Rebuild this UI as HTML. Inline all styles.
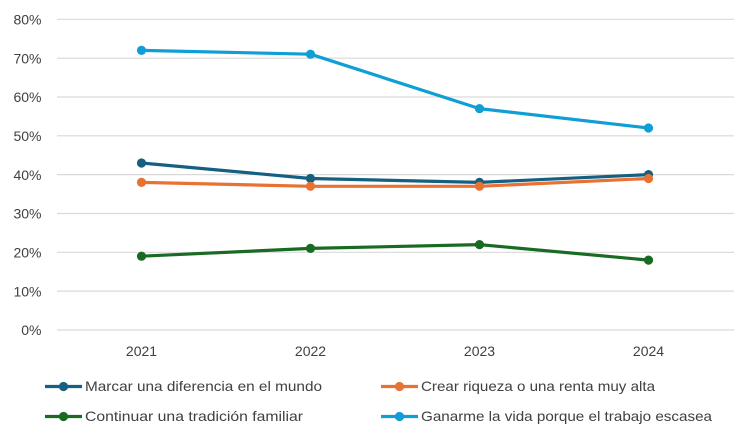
<!DOCTYPE html>
<html>
<head>
<meta charset="utf-8">
<style>
  html, body { margin: 0; padding: 0; background: #ffffff; }
  svg { display: block; }
  text { font-family: "Liberation Sans", "DejaVu Sans", sans-serif; fill: #404040; }
</style>
</head>
<body>
<svg width="754" height="440" viewBox="0 0 754 440" xmlns="http://www.w3.org/2000/svg">
  <rect width="754" height="440" fill="#ffffff"/>
  <!-- gridlines -->
  <g stroke="#d9d9d9" stroke-width="1.2">
    <line x1="57" y1="19.3" x2="734" y2="19.3"/>
    <line x1="57" y1="58.2" x2="734" y2="58.2"/>
    <line x1="57" y1="97" x2="734" y2="97"/>
    <line x1="57" y1="135.8" x2="734" y2="135.8"/>
    <line x1="57" y1="174.6" x2="734" y2="174.6"/>
    <line x1="57" y1="213.5" x2="734" y2="213.5"/>
    <line x1="57" y1="252.3" x2="734" y2="252.3"/>
    <line x1="57" y1="291.1" x2="734" y2="291.1"/>
    <line x1="57" y1="330" x2="734" y2="330"/>
  </g>
  <!-- y tick labels -->
  <g font-size="14" text-anchor="end">
    <text x="41.5" y="24.5">80%</text>
    <text x="41.5" y="63.4">70%</text>
    <text x="41.5" y="102.2">60%</text>
    <text x="41.5" y="141">50%</text>
    <text x="41.5" y="179.8">40%</text>
    <text x="41.5" y="218.7">30%</text>
    <text x="41.5" y="257.5">20%</text>
    <text x="41.5" y="296.3">10%</text>
    <text x="41.5" y="335.2">0%</text>
  </g>
  <!-- x labels -->
  <g font-size="14" text-anchor="middle">
    <text x="141.5" y="356">2021</text>
    <text x="310.5" y="356">2022</text>
    <text x="479.5" y="356">2023</text>
    <text x="648.5" y="356">2024</text>
  </g>
  <!-- series: y = 330 - v*3.884 -->
  <!-- Marcar: 43,39,38,40 -->
  <g stroke="#156082" fill="#156082">
    <polyline fill="none" stroke-width="3.2" stroke-linejoin="round" points="141.5,163 310.5,178.5 479.5,182.4 648.5,174.6"/>
    <circle cx="141.5" cy="163" r="4.6" stroke="none"/>
    <circle cx="310.5" cy="178.5" r="4.6" stroke="none"/>
    <circle cx="479.5" cy="182.4" r="4.6" stroke="none"/>
    <circle cx="648.5" cy="174.6" r="4.6" stroke="none"/>
  </g>
  <!-- Crear: 38,37,37,39 -->
  <g stroke="#E97132" fill="#E97132">
    <polyline fill="none" stroke-width="3.2" stroke-linejoin="round" points="141.5,182.4 310.5,186.3 479.5,186.3 648.5,178.5"/>
    <circle cx="141.5" cy="182.4" r="4.6" stroke="none"/>
    <circle cx="310.5" cy="186.3" r="4.6" stroke="none"/>
    <circle cx="479.5" cy="186.3" r="4.6" stroke="none"/>
    <circle cx="648.5" cy="178.5" r="4.6" stroke="none"/>
  </g>
  <!-- Continuar: 19,21,22,18 -->
  <g stroke="#196B24" fill="#196B24">
    <polyline fill="none" stroke-width="3.2" stroke-linejoin="round" points="141.5,256.2 310.5,248.4 479.5,244.6 648.5,260.1"/>
    <circle cx="141.5" cy="256.2" r="4.6" stroke="none"/>
    <circle cx="310.5" cy="248.4" r="4.6" stroke="none"/>
    <circle cx="479.5" cy="244.6" r="4.6" stroke="none"/>
    <circle cx="648.5" cy="260.1" r="4.6" stroke="none"/>
  </g>
  <!-- Ganarme: 72,71,57,52 -->
  <g stroke="#0F9ED5" fill="#0F9ED5">
    <polyline fill="none" stroke-width="3.2" stroke-linejoin="round" points="141.5,50.4 310.5,54.2 479.5,108.6 648.5,128"/>
    <circle cx="141.5" cy="50.4" r="4.6" stroke="none"/>
    <circle cx="310.5" cy="54.2" r="4.6" stroke="none"/>
    <circle cx="479.5" cy="108.6" r="4.6" stroke="none"/>
    <circle cx="648.5" cy="128" r="4.6" stroke="none"/>
  </g>
  <!-- legend -->
  <g font-size="14">
    <line x1="45" y1="386.5" x2="82" y2="386.5" stroke="#156082" stroke-width="3.2"/>
    <circle cx="63.5" cy="386.5" r="4.6" fill="#156082"/>
    <text x="85" y="391" textLength="237" lengthAdjust="spacingAndGlyphs">Marcar una diferencia en el mundo</text>

    <line x1="45" y1="416.5" x2="82" y2="416.5" stroke="#196B24" stroke-width="3.2"/>
    <circle cx="63.5" cy="416.5" r="4.6" fill="#196B24"/>
    <text x="85" y="421" textLength="218" lengthAdjust="spacingAndGlyphs">Continuar una tradición familiar</text>

    <line x1="381" y1="386.5" x2="418" y2="386.5" stroke="#E97132" stroke-width="3.2"/>
    <circle cx="399.5" cy="386.5" r="4.6" fill="#E97132"/>
    <text x="421" y="391" textLength="234" lengthAdjust="spacingAndGlyphs">Crear riqueza o una renta muy alta</text>

    <line x1="381" y1="416.5" x2="418" y2="416.5" stroke="#0F9ED5" stroke-width="3.2"/>
    <circle cx="399.5" cy="416.5" r="4.6" fill="#0F9ED5"/>
    <text x="421" y="421" textLength="291" lengthAdjust="spacingAndGlyphs">Ganarme la vida porque el trabajo escasea</text>
  </g>
</svg>
</body>
</html>
